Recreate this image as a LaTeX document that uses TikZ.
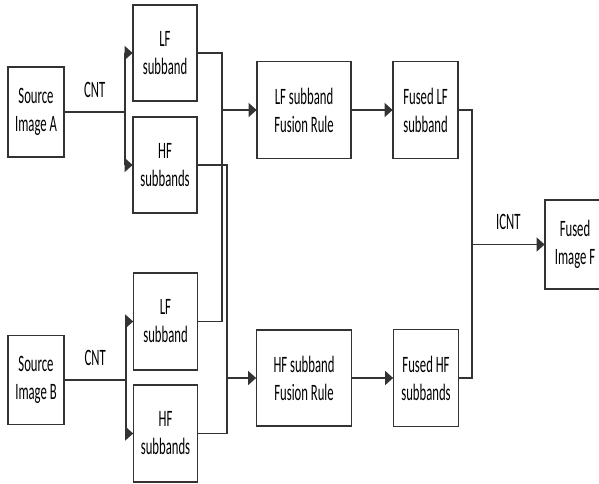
\documentclass[tikz,border=0pt]{standalone}
\usepackage{fontspec}
\setmainfont{Carlito}
\usetikzlibrary{arrows.meta}
\usetikzlibrary{positioning}

\begin{document}
\begin{tikzpicture}[x=1pt, y=-1pt]
      \tikzset{
         box/.style 2 args = {
            rectangle, draw=black!80, line width=1.3pt,
            align=center, inner sep=0pt,
            font=\fontsize{23.5}{28}\selectfont,
            minimum width=#1/0.54, minimum height=#2,
            xscale=0.54
         },
         lbl/.style = {
            inner sep=0pt, font=\fontsize{23.5}{28}\selectfont,
            xscale=0.54
         },
         link/.style = {draw=black!80, line width=1.3pt},
         arr/.style = {link, -{Triangle[length=8pt, width=14pt]}}
      }
      \useasboundingbox (0,0) rectangle (599,484) ;
      \node[box={56}{90}] (srcA) at (36,112) {Source\\Image A} ;
      \node[box={64}{96}] (lfA) at (165,53) {LF\\subband} ;
      \node[box={64}{96}] (hfA) at (165,165) {HF\\subbands} ;
      \node[box={94}{97}] (lfRule) at (304,110) {LF subband\\Fusion Rule} ;
      \node[box={65}{97}] (fusedLF) at (425.5,110) {Fused LF\\subband} ;
      \node[box={56}{89}] (srcB) at (36,380) {Source\\Image B} ;
      \node[box={64}{97}] (lfB) at (165.5,321.5) {LF\\subband} ;
      \node[box={64}{97}] (hfB) at (165.5,433.5) {HF\\subbands} ;
      \node[box={95}{96}] (hfRule) at (304,378) {HF subband\\Fusion Rule} ;
      \node[box={65}{97}] (fusedHF) at (426,378) {Fused HF\\subbands} ;
      \node[box={60}{89}] (fusedF) at (575,244.5) {Fused\\Image F} ;
      \coordinate (sA) at (125,112) ;
      \coordinate (sB) at (126,380) ;
      \coordinate (jLF) at (222,110) ;
      \coordinate (jHF) at (227,378) ;
      \coordinate (jOut) at (472,244.5) ;
      \draw [link] (srcA) -- node[lbl, above=14pt] {CNT} (sA) ;
      \draw [arr] (sA) |- (lfA) ;
      \draw [arr] (sA) |- (hfA) ;
      \draw [link] (srcB) -- node[lbl, above=14pt] {CNT} (sB) ;
      \draw [arr] (sB) |- (lfB) ;
      \draw [arr] (sB) |- (hfB) ;
      \draw [link] (lfA) -| (jLF) |- (lfB) ;
      \draw [link] (hfA) -| (jHF) |- (hfB) ;
      \draw [arr] (jLF) -- (lfRule) ;
      \draw [arr] (jHF) -- (hfRule) ;
      \draw [arr] (lfRule) -- (fusedLF) ;
      \draw [arr] (hfRule) -- (fusedHF) ;
      \draw [link] (fusedLF) -| (jOut) |- (fusedHF) ;
      \draw [arr] (jOut) -- node[lbl, above=14pt] {ICNT} (fusedF) ;
    \end{tikzpicture}
\end{document}
